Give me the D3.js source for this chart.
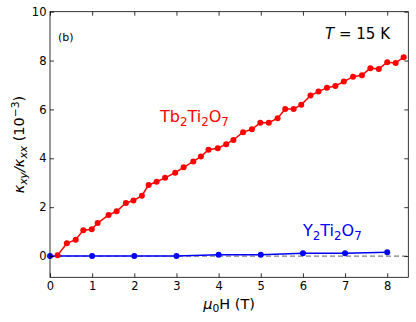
<!DOCTYPE html>
<html><head><meta charset="utf-8">
<script src="https://cdn.jsdelivr.net/npm/d3@7"></script>
<style>body{margin:0;background:#fff}svg{display:block}text{font-family:"DejaVu Sans",sans-serif}</style>
</head><body><svg id="c" width="416" height="322"></svg>
<script>
const xTicks = [0,1,2,3,4,5,6,7,8];
const yTicks = [0,2,4,6,8,10];
const tbField = [0.18,0.4,0.61,0.79,0.99,1.13,1.39,1.58,1.8,1.98,2.18,2.34,2.53,2.73,2.97,3.17,3.4,3.58,3.76,3.98,4.18,4.35,4.58,4.79,4.99,5.19,5.4,5.58,5.78,5.96,6.18,6.37,6.57,6.77,6.97,7.19,7.4,7.6,7.8,8.0,8.2,8.39];
const tbValue = [0.03,0.52,0.67,1.06,1.1,1.35,1.68,1.83,2.17,2.27,2.47,2.91,3.04,3.2,3.41,3.63,3.87,4.07,4.35,4.41,4.58,4.75,5.07,5.19,5.46,5.46,5.64,6.02,6.02,6.19,6.57,6.73,6.89,6.96,7.14,7.34,7.4,7.69,7.66,7.93,7.9,8.14];
const yField = [0,1,2,3,4,5,6,7,8];
const yValue = [0,0,0,0,0.05,0.05,0.11,0.11,0.16];

const svg = d3.select("#c");
const L=50, R=408.3, T=11.7, B=277.3;
const x = d3.scaleLinear().domain([0,8.5]).range([L,R]);
const y = d3.scaleLinear().domain([-0.87,10]).range([B,T]);

// zero dashed line
svg.append("line").attr("x1",x(0)).attr("x2",x(8.5)).attr("y1",y(0)).attr("y2",y(0))
  .attr("stroke","#808080").attr("stroke-width",1.2).attr("stroke-dasharray","5,3");

function series(xs, ys, color){
  const pts = xs.map((v,i)=>[v,ys[i]]);
  svg.append("path").datum(pts).attr("fill","none").attr("stroke",color).attr("stroke-width",1.5)
    .attr("d", d3.line().x(d=>x(d[0])).y(d=>y(d[1])));
  svg.selectAll(null).data(pts).enter().append("circle")
    .attr("cx",d=>x(d[0])).attr("cy",d=>y(d[1])).attr("r",3).attr("fill",color);
}
series(yField, yValue, "#0000ff");
series(tbField, tbValue, "#ff0000");

// axes
const fs = "11.5px";
const ax = svg.append("g").attr("transform",`translate(0,${B})`)
  .call(d3.axisBottom(x).tickValues(xTicks).tickSizeInner(-4).tickSizeOuter(0).tickPadding(4.5));
const axT = svg.append("g").attr("transform",`translate(0,${T})`)
  .call(d3.axisTop(x).tickValues(xTicks).tickSizeInner(-4).tickSizeOuter(0).tickFormat(""));
const ay = svg.append("g").attr("transform",`translate(${L},0)`)
  .call(d3.axisLeft(y).tickValues(yTicks).tickSizeInner(-4).tickSizeOuter(0).tickPadding(3.5));
const ayR = svg.append("g").attr("transform",`translate(${R},0)`)
  .call(d3.axisRight(y).tickValues(yTicks).tickSizeInner(-4).tickSizeOuter(0).tickFormat(""));
[ax,axT,ay,ayR].forEach(g=>{
  g.select(".domain").remove();
  g.selectAll("line").attr("stroke","#000").attr("stroke-width",0.8);
  g.selectAll("text").attr("font-size",fs).attr("fill","#000").style("font-family","DejaVu Sans");
});
svg.append("rect").attr("x",L).attr("y",T).attr("width",R-L).attr("height",B-T)
  .attr("fill","none").attr("stroke","#000").attr("stroke-width",0.8);

// rich text helper
function rich(g, parts, size){
  const t = g.append("text").attr("font-size",size+"px");
  let prev = 0;
  parts.forEach(p=>{
    const [s, kind, italic] = p;
    let off = kind==="sub" ? 0.22*size : kind==="sup" ? -0.38*size : 0;
    const ts = t.append("tspan").text(s).attr("dy", off-prev);
    if(kind) ts.attr("font-size",(size*0.74)+"px");
    if(italic) ts.attr("font-style","italic");
    prev = off;
  });
  return t;
}

svg.append("text").attr("x",58).attr("y",41).attr("font-size","11px").text("(b)");
rich(svg,[["T",null,true],[" = 15 K",null]],15).attr("x",325).attr("y",38.5);

rich(svg,[["Tb",null],["2","sub"],["Ti",null],["2","sub"],["O",null],["7","sub"]],16)
  .attr("x",160).attr("y",122).attr("fill","#ff0000");
rich(svg,[["Y",null],["2","sub"],["Ti",null],["2","sub"],["O",null],["7","sub"]],16)
  .attr("x",303).attr("y",236).attr("fill","#0000ff");

// x label
rich(svg,[["μ",null,true],["0","sub"],["H (T)",null]],14.5)
  .attr("x",(L+R)/2).attr("y",309).attr("text-anchor","middle");
// y label
const gy = svg.append("g").attr("transform",`translate(24,${(T+B)/2}) rotate(-90)`);
rich(gy,[["κ",null,true],["xy","sub",true],["/κ",null,true],["xx","sub",true],[" (10",null],["−3","sup"],[")",null]],14.5)
  .attr("x",0).attr("y",0).attr("text-anchor","middle");
</script></body></html>
